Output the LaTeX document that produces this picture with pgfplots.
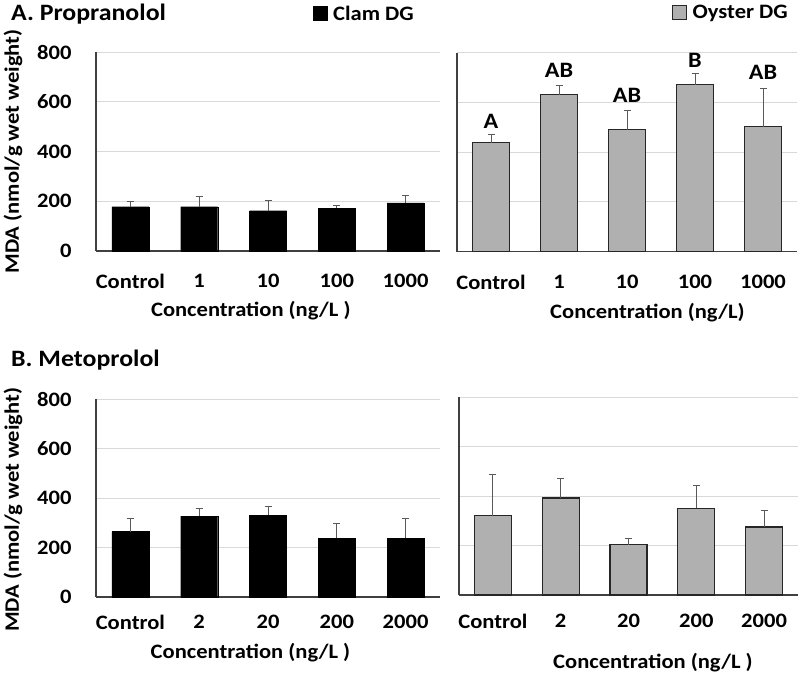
\documentclass[border=0pt]{standalone}
\usepackage{pgfplots}
\pgfplotsset{compat=1.18}
\usepackage{fontspec}
\setmainfont{Carlito}[FakeStretch=1.1]
\definecolor{oyster}{HTML}{B0B0B0}
\definecolor{gridc}{HTML}{D9D9D9}
\definecolor{errc}{HTML}{595959}
\definecolor{axc}{HTML}{404040}
\newcommand{\lbf}{\fontsize{20.5}{25}\selectfont\bfseries}
\pgfplotsset{
 panel/.style={
  scale only axis, anchor=south west,
  xmin=-0.5, xmax=4.5, ymin=0, ymax=800,
  ytick={0,200,...,800}, ymajorgrids, grid style={gridc, line width=1pt},
  xtick={0,...,4},
  axis x line*=bottom, axis y line*=left,
  x axis line style={-, axc, line width=1.2pt},
  y axis line style={-, axc, line width=1.2pt},
  major tick length=0pt,
  ybar, bar width=37pt, bar shift=0pt,
  tick label style={font=\lbf},
  /pgf/number format/assume math mode=true,
  yticklabel style={xshift=-21pt},
  label style={font=\lbf},
  clip=false,
  error bars/y dir=plus, error bars/y explicit,
  error bars/error bar style={errc, line width=1pt},
  error bars/error mark options={rotate=90, errc, mark size=3.5pt, line width=1pt},
  legend style={draw=none, fill=none, font=\lbf, anchor=center, inner sep=0pt},
  legend image code/.code={\draw[#1, line width=0.8pt] (0pt,-7pt) rectangle (14pt,7pt); \path[draw=none, fill=none] (0pt,0pt) -- (18pt,0pt);},
 },
}
\begin{document}
\begin{tikzpicture}[x=1pt,y=1pt]
\useasboundingbox (0,0) rectangle (800,-673);
\node[anchor=west, font=\fontsize{23.5}{28}\selectfont\bfseries, inner sep=0pt] at (11,-14) {A. Propranolol};
\node[anchor=west, font=\fontsize{23.5}{28}\selectfont\bfseries, inner sep=0pt] at (11,-360) {B. Metoprolol};

% Top-left: Clam, propranolol
\begin{axis}[panel, at={(96pt,-251pt)}, width=344pt, height=199pt,
  xticklabels={Control,1,10,100,1000},
  xticklabel style={yshift=-20pt},
  xlabel={Concentration (ng/L )},
  xlabel style={at={(axis description cs:0.45,0)}, anchor=center, yshift=-60pt},
  ylabel={MDA (nmol/g wet weight)},
  ylabel style={at={(axis description cs:-0.241,0.5)}, anchor=center},
  legend style={at={(axis description cs:0.78,1.193)}}]
\addplot[fill=black, draw=black] coordinates {
 (0,178) +- (0,20)
 (1,178) +- (0,43)
 (2,162) +- (0,40)
 (3,172) +- (0,10)
 (4,194) +- (0,28)
};
\addlegendentry{Clam DG}
\end{axis}

% Top-right: Oyster, propranolol
\begin{axis}[panel, at={(457pt,-251.5pt)}, width=340pt, height=199pt,
  xticklabels={Control,1,10,100,1000}, yticklabels={},
  xticklabel style={yshift=-20pt},
  xlabel={Concentration (ng/L)},
  xlabel style={at={(axis description cs:0.56,0)}, anchor=center, yshift=-61pt},
  legend style={at={(axis description cs:0.806,1.203)}}]
\addplot[fill=oyster, draw=black!85, line width=1.2pt] coordinates {
 (0,438) +- (0,32)
 (1,631) +- (0,38)
 (2,489) +- (0,78)
 (3,671) +- (0,46)
 (4,502) +- (0,153)
};
\addlegendentry{Oyster DG}
\node[font=\fontsize{22}{26}\selectfont\bfseries] at (axis cs:0,523) {A};
\node[font=\fontsize{22}{26}\selectfont\bfseries] at (axis cs:1,730) {AB};
\node[font=\fontsize{22}{26}\selectfont\bfseries] at (axis cs:2,627) {AB};
\node[font=\fontsize{22}{26}\selectfont\bfseries] at (axis cs:3,767) {B};
\node[font=\fontsize{22}{26}\selectfont\bfseries] at (axis cs:4,720) {AB};
\end{axis}

% Bottom-left: Clam, metoprolol
\begin{axis}[panel, at={(96pt,-597pt)}, width=344pt, height=198pt,
  xticklabels={Control,2,20,200,2000},
  xticklabel style={yshift=-15pt},
  xlabel={Concentration (ng/L )},
  xlabel style={at={(axis description cs:0.449,0)}, anchor=center, yshift=-56pt},
  ylabel={MDA (nmol/g wet weight)},
  ylabel style={at={(axis description cs:-0.241,0.44)}, anchor=center}]
\addplot[fill=black, draw=black] coordinates {
 (0,264) +- (0,54)
 (1,327) +- (0,30)
 (2,330) +- (0,34)
 (3,237) +- (0,61)
 (4,237) +- (0,81)
};
\end{axis}

% Bottom-right: Oyster, metoprolol
\begin{axis}[panel, at={(459pt,-595pt)}, width=339pt, height=198pt,
  xticklabels={Control,2,20,200,2000}, yticklabels={},
  xticklabel style={yshift=-16pt},
  xlabel={Concentration (ng/L )},
  xlabel style={at={(axis description cs:0.572,0)}, anchor=center, yshift=-68pt}]
\addplot[fill=oyster, draw=black!85, line width=1.2pt] coordinates {
 (0,320) +- (0,165)
 (1,392) +- (0,79)
 (2,203) +- (0,27)
 (3,350) +- (0,92)
 (4,275) +- (0,67)
};
\end{axis}
\end{tikzpicture}
\end{document}
